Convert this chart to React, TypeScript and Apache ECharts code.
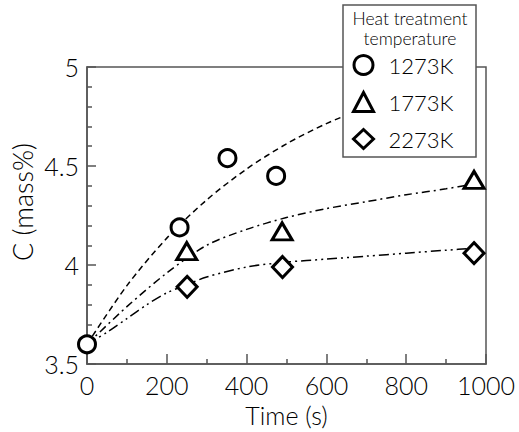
import React, { useEffect, useRef } from "react";
import * as echarts from "echarts";

// Measured points
const t1273 = [0, 232, 352, 474];
const c1273 = [3.6, 4.19, 4.54, 4.45];
const t1773 = [250, 489, 970];
const c1773 = [4.07, 4.17, 4.43];
const t2273 = [251, 490, 970];
const c2273 = [3.89, 3.99, 4.06];

// Fitted curves
const fitT1273 = [0, 100, 200, 300, 400, 500, 600, 700, 800, 900];
const fitC1273 = [3.6, 3.896, 4.136, 4.329, 4.485, 4.612, 4.714, 4.796, 4.862, 4.915];
const fitT1773 = [0, 100, 200, 300, 400, 500, 600, 700, 800, 900, 970];
const fitC1773 = [3.6, 3.79, 3.96, 4.1, 4.18, 4.24, 4.285, 4.32, 4.355, 4.385, 4.41];
const fitT2273 = [0, 50, 100, 150, 200, 250, 300, 400, 500, 600, 700, 800, 900, 970];
const fitC2273 = [3.6, 3.66, 3.73, 3.8, 3.86, 3.9, 3.94, 3.99, 4.015, 4.03, 4.045, 4.06, 4.075, 4.085];

const names = ["1273K", "1773K", "2273K"];
const legendTitle = ["Heat treatment", "temperature"];

const FONT = "Lato, 'DejaVu Sans', sans-serif";
const AXIS = "#555";

const zip = (a: number[], b: number[]) => a.map((v, i) => [v, b[i]]);

export default function App() {
  const ref = useRef<HTMLDivElement>(null);
  useEffect(() => {
    if (!ref.current) return;
    const chart = echarts.init(ref.current, undefined, { renderer: "svg" });
    const markerStyle = { color: "#fff", borderColor: "#000", borderWidth: 3, opacity: 1 };
    const lineSeries = (name: string, data: number[][], type: number[]) => ({
      type: "line",
      name,
      data,
      smooth: 0.3,
      showSymbol: false,
      symbol: "none",
      lineStyle: { color: "#000", width: 1.5, type },
      silent: true,
      z: 2,
    });
    chart.setOption({
      animation: false,
      backgroundColor: "#fff",
      textStyle: { fontFamily: FONT },
      grid: { left: 87, right: 33, top: 67, bottom: 64, show: true, borderColor: AXIS, borderWidth: 1.5, backgroundColor: "transparent" },
      xAxis: {
        type: "value",
        min: 0,
        max: 1000,
        interval: 200,
        name: "Time (s)",
        nameLocation: "middle",
        nameGap: 36,
        nameTextStyle: { fontSize: 25, color: "#000", fontFamily: FONT, fontWeight: 300 },
        axisLine: { lineStyle: { color: AXIS, width: 1.5 } },
        axisTick: { inside: true, length: 10, lineStyle: { color: AXIS, width: 1.5 } },
        minorTick: { show: true, splitNumber: 2, length: 5, lineStyle: { color: AXIS, width: 1.5 } },
        axisLabel: { fontSize: 25, color: "#000", margin: 8, fontFamily: FONT, fontWeight: 300, formatter: (v: number) => String(v) },
        splitLine: { show: false },
      },
      yAxis: {
        type: "value",
        min: 3.5,
        max: 5,
        interval: 0.5,
        axisLine: { show: true, lineStyle: { color: AXIS, width: 1.5 } },
        axisTick: { show: true, inside: true, length: 9, lineStyle: { color: AXIS, width: 1.5 } },
        minorTick: { show: true, splitNumber: 5, length: 5, lineStyle: { color: AXIS, width: 1.5 } },
        axisLabel: { fontSize: 25, color: "#000", margin: 8, fontFamily: FONT, fontWeight: 300, formatter: (v: number) => String(v) },
        splitLine: { show: false },
      },
      legend: {
        data: names,
        orient: "vertical",
        left: 347,
        top: 49,
        padding: 5,
        itemGap: 15,
        itemWidth: 20,
        itemHeight: 19,
        z: 20,
        itemStyle: { color: "#fff", borderColor: "#000", borderWidth: 3 },
        textStyle: { fontSize: 22, color: "#000", fontFamily: FONT, fontWeight: 300, padding: [0, 0, 0, 10] },
      },
      graphic: [
        {
          type: "rect",
          z: 10,
          shape: { x: 343, y: 5, width: 133, height: 152 },
          style: { fill: "#fff", stroke: AXIS, lineWidth: 1.5 },
        },
        {
          type: "text",
          z: 11,
          x: 410,
          y: 18,
          style: { text: legendTitle[0], fontSize: 17.5, fontFamily: FONT, fontWeight: 300, fill: "#000", textAlign: "center", textVerticalAlign: "middle" },
        },
        {
          type: "text",
          z: 11,
          x: 410,
          y: 38,
          style: { text: legendTitle[1], fontSize: 17.5, fontFamily: FONT, fontWeight: 300, fill: "#000", textAlign: "center", textVerticalAlign: "middle" },
        },
        {
          type: "text",
          z: 11,
          x: 22,
          y: 202,
          rotation: Math.PI / 2,
          style: { text: "C (mass%)", fontSize: 27, fontFamily: FONT, fontWeight: 300, fill: "#000", textAlign: "center", textVerticalAlign: "middle" },
        },
      ],
      series: [
        lineSeries("fit1273", zip(fitT1273, fitC1273), [6, 4]),
        lineSeries("fit1773", zip(fitT1773, fitC1773), [8, 4, 2, 4]),
        lineSeries("fit2273", zip(fitT2273, fitC2273), [10, 4, 2, 4, 2, 4]),
        { type: "scatter", name: names[0], data: zip(t1273, c1273), symbol: "circle", symbolSize: 17, itemStyle: markerStyle, clip: false, z: 5 },
        { type: "scatter", name: names[1], data: zip(t1773, c1773), symbol: "triangle", symbolSize: [20, 17], itemStyle: markerStyle, clip: false, z: 5 },
        { type: "scatter", name: names[2], data: zip(t2273, c2273), symbol: "diamond", symbolSize: [20, 21], itemStyle: markerStyle, clip: false, z: 5 },
      ],
    });
    return () => chart.dispose();
  }, []);
  return <div ref={ref} style={{ width: 519, height: 432, position: "absolute", left: 0, top: 0 }} />;
}
